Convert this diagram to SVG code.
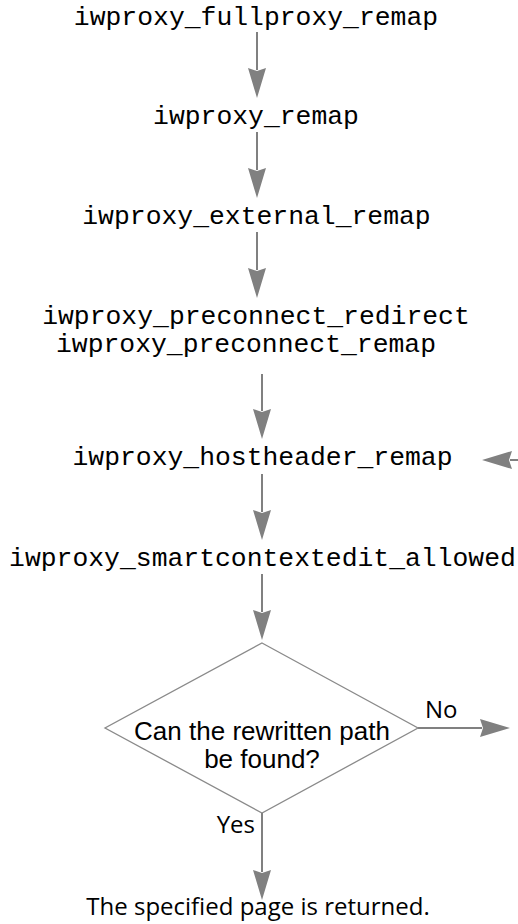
<svg xmlns="http://www.w3.org/2000/svg" width="518" height="924" viewBox="0 0 518 924">
  <style>
    .fn { font-family: "Liberation Mono", "Courier New", monospace; font-size: 26.4px; fill: #000; text-anchor: middle; }
    .q { font-family: "Liberation Sans", Arial, sans-serif; font-size: 26px; fill: #000; text-anchor: middle; }
    .lbl { font-family: "Open Sans", "DejaVu Sans", sans-serif; font-size: 24px; fill: #000; }
    .conn { stroke: #808080; stroke-width: 2; fill: none; marker-end: url(#ah); }
    .dia { fill: #fff; stroke: #8a8a8a; stroke-width: 1.3; }
  </style>
  <defs>
    <marker id="ah" markerUnits="userSpaceOnUse" markerWidth="32" markerHeight="20" viewBox="0 0 32 20" refX="2" refY="10" orient="auto">
      <path d="M0,1 L30,10 L0,19 L3,10 z" fill="#808080"/>
    </marker>
  </defs>

  <g id="n-fullproxy"><text class="fn" x="256" y="25">iwproxy_fullproxy_remap</text></g>
  <g id="n-remap"><text class="fn" x="256" y="124">iwproxy_remap</text></g>
  <g id="n-external"><text class="fn" x="256.5" y="224">iwproxy_external_remap</text></g>
  <g id="n-preconnect">
    <text class="fn" x="256" y="324">iwproxy_preconnect_redirect</text>
    <text class="fn" x="246" y="352">iwproxy_preconnect_remap</text>
  </g>
  <g id="n-hostheader"><text class="fn" x="262.5" y="465">iwproxy_hostheader_remap</text></g>
  <g id="n-smartcontext"><text class="fn" x="262.5" y="566">iwproxy_smartcontextedit_allowed</text></g>
  <g id="n-decision">
    <polygon class="dia" points="262,643 418,728 262,813 105,728"/>
    <text class="q" x="262" y="740">Can the rewritten path</text>
    <text class="q" x="262" y="768">be found?</text>
  </g>
  <g id="n-returned"><text class="lbl" x="258" y="915" text-anchor="middle">The specified page is returned.</text></g>

  <g id="connectors">
    <path class="conn" d="M257,32 V70"/>
    <path class="conn" d="M257,132 V170"/>
    <path class="conn" d="M257,232 V270"/>
    <path class="conn" d="M262,374 V411"/>
    <path class="conn" d="M262,474 V512"/>
    <path class="conn" d="M262,574 V612"/>
    <path class="conn" d="M520,460 H510"/>
    <path class="conn" d="M418,728 H482"/>
    <path class="conn" d="M262,813 V872"/>
    <text class="lbl" x="425" y="718">No</text>
    <text class="lbl" x="255" y="833" text-anchor="end">Yes</text>
  </g>
</svg>
